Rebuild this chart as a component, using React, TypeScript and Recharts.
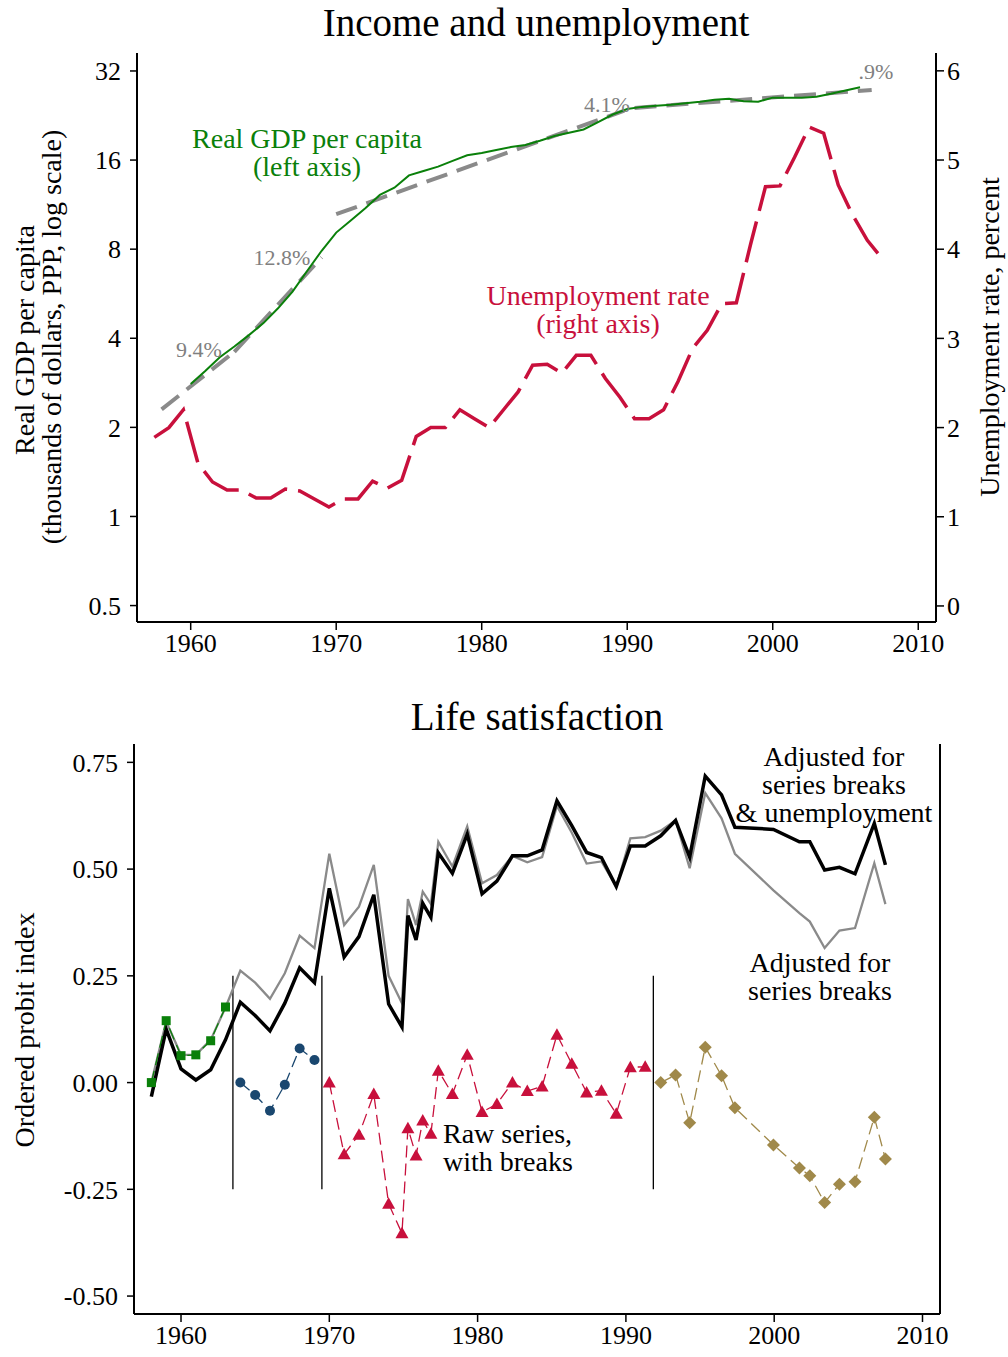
import React from 'react';
import { LineChart, Line, XAxis, YAxis, ReferenceLine } from 'recharts';

const FONT = '"Liberation Serif", "Times New Roman", Times, serif';

// ---------- Top chart data ----------
const xTickYears = [1960, 1970, 1980, 1990, 2000, 2010];
const gdpTicks = [0.5, 1, 2, 4, 8, 16, 32];
const unempTicks = [0, 1, 2, 3, 4, 5, 6];

const gdpYears = [
  1960, 1961, 1962, 1963, 1964, 1965, 1966, 1967, 1968, 1969,
  1970, 1971, 1972, 1973, 1974, 1975, 1976, 1977, 1978, 1979,
  1980, 1981, 1982, 1983, 1984, 1985, 1986, 1987, 1988, 1989,
  1990, 1991, 1992, 1993, 1994, 1995, 1996, 1997, 1998, 1999,
  2000, 2001, 2002, 2003, 2004, 2005, 2006,
];
const gdpValues = [
  2.8, 3.1, 3.45, 3.75, 4.1, 4.5, 5.05, 5.75, 6.75, 7.9,
  9.1, 10.0, 11.0, 12.2, 12.9, 14.2, 14.7, 15.2, 15.9, 16.6,
  16.9, 17.3, 17.7, 18.0, 18.6, 19.3, 19.8, 20.3, 21.5, 22.8,
  23.8, 24.2, 24.4, 24.6, 24.9, 25.2, 25.6, 25.8, 25.3, 25.2,
  26.0, 26.0, 26.0, 26.2, 26.8, 27.5, 28.2,
];

const unempYears = [
  1957.5, 1958.5, 1959.5, 1960.5, 1961.5, 1962.5, 1963.5, 1964.5, 1965.5, 1966.5,
  1967.5, 1968.5, 1969.5, 1970.5, 1971.5, 1972.5, 1973.5, 1974.5, 1975.5, 1976.5,
  1977.5, 1978.5, 1979.5, 1980.5, 1981.5, 1982.5, 1983.5, 1984.5, 1985.5, 1986.5,
  1987.5, 1988.5, 1989.5, 1990.5, 1991.5, 1992.5, 1993.5, 1994.5, 1995.5, 1996.5,
  1997.5, 1998.5, 1999.5, 2000.5, 2001.5, 2002.5, 2003.5, 2004.5, 2005.5, 2006.5,
  2007.5,
];
const unempValues = [
  1.89, 2.0, 2.2, 1.6, 1.39, 1.3, 1.3, 1.21, 1.21, 1.31,
  1.29, 1.2, 1.11, 1.2, 1.2, 1.4, 1.32, 1.41, 1.9, 2.0,
  2.0, 2.2, 2.1, 2.0, 2.2, 2.4, 2.7, 2.71, 2.61, 2.81,
  2.81, 2.55, 2.34, 2.1, 2.1, 2.2, 2.52, 2.89, 3.09, 3.39,
  3.4, 4.07, 4.7, 4.71, 5.03, 5.37, 5.3, 4.72, 4.38, 4.1,
  3.9,
];

// trend segments (growth-rate fits)
const trendStartYears = [1958, 1963, 1970, 1990.5];
const trendEndYears = [1963, 1969, 1989.8, 2006.8];
const trendStartValues = [2.3, 3.6, 10.5, 24.0];
const trendEndValues = [3.6, 7.5, 23.5, 27.6];
const trendLabels = ['9.4%', '12.8%', '4.1%', '.9%'];

// ---------- Bottom chart data ----------
const lsTicks = [-0.5, -0.25, 0, 0.25, 0.5, 0.75];
const waves = [
  1958, 1959, 1960, 1961, 1962, 1963, 1964, 1965, 1966, 1967,
  1968, 1969, 1970, 1971, 1972, 1973, 1974, 1974.9, 1975.3, 1975.85,
  1976.3, 1976.85, 1977.35, 1978.3, 1979.3, 1980.3, 1981.3, 1982.35, 1983.35, 1984.35,
  1985.35, 1986.35, 1987.35, 1988.35, 1989.35, 1990.3, 1991.3, 1992.35, 1993.35, 1994.3,
  1995.35, 1996.45, 1997.35, 1999.95, 2001.7, 2002.4, 2003.4, 2004.4, 2005.45, 2006.75,
  2007.5,
];
const adjBreaksUnemp = [
  -0.033, 0.125, 0.032, 0.006, 0.03, 0.1, 0.188, 0.157, 0.121, 0.186,
  0.269, 0.234, 0.455, 0.294, 0.342, 0.44, 0.184, 0.13, 0.391, 0.334,
  0.42, 0.387, 0.538, 0.49, 0.582, 0.442, 0.472, 0.531, 0.531, 0.545,
  0.66, 0.602, 0.539, 0.527, 0.459, 0.554, 0.554, 0.578, 0.614, 0.528,
  0.718, 0.674, 0.598, 0.593, 0.564, 0.564, 0.498, 0.504, 0.489, 0.607,
  0.51,
];
const adjBreaks = [
  0.0, 0.143, 0.065, 0.065, 0.1, 0.176, 0.262, 0.234, 0.196, 0.256,
  0.344, 0.315, 0.536, 0.369, 0.412, 0.51, 0.25, 0.186, 0.43, 0.369,
  0.447, 0.418, 0.564, 0.506, 0.6, 0.467, 0.486, 0.531, 0.516, 0.528,
  0.648, 0.585, 0.513, 0.518, 0.459, 0.572, 0.575, 0.59, 0.614, 0.502,
  0.678, 0.619, 0.536, 0.45, 0.397, 0.377, 0.315, 0.356, 0.362, 0.514,
  0.418,
];
const rawSeg1 = [0.0, 0.145, 0.063, 0.065, 0.098, 0.177];
const rawSeg2 = [0.0, -0.029, -0.066, -0.005, 0.08, 0.053];
const rawSeg3 = [
  0.0, -0.168, -0.122, -0.027, -0.284, -0.353, -0.107, -0.171, -0.089, -0.12,
  0.028, -0.027, 0.065, -0.069, -0.05, 0.0, -0.02, -0.009, 0.112, 0.044,
  -0.023, -0.019, -0.073, 0.036, 0.037,
];
const rawSeg4 = [
  0.0, 0.018, -0.094, 0.083, 0.016, -0.059, -0.146, -0.2, -0.218, -0.281,
  -0.238, -0.232, -0.081, -0.179,
];
const breakYears = [1963.5, 1969.5, 1991.85];

// ---------- build tables ----------
const gdpData = gdpYears.map((year, i) => ({ year, v: gdpValues[i] }));
const unempData = unempYears.map((year, i) => ({ year, v: unempValues[i] }));
const trendData = trendStartYears.map((s, i) => [
  { year: s, v: trendStartValues[i] },
  { year: trendEndYears[i], v: trendEndValues[i] },
]);
const adjData = waves.map((year, i) => ({ year, both: adjBreaksUnemp[i], brk: adjBreaks[i] }));
let off = 0;
const rawData = [rawSeg1, rawSeg2, rawSeg3, rawSeg4].map((seg) => {
  const d = seg.map((v, i) => ({ year: waves[off + i], v }));
  off += seg.length;
  return d;
});

// ---------- styles ----------
const GREEN = '#0A800A';
const RED = '#C8103C';
const GREY = '#8A8A8A';
const LABELGREY = '#808080';
const NAVY = '#1A476F';
const SAND = '#A0894A';

const tickStyle = { fontSize: 26, fill: '#000', fontFamily: FONT };
const axisLineStyle = { stroke: '#000', strokeWidth: 2 };
const tickLineStyle = { stroke: '#000', strokeWidth: 1.5 };

const Txt = ({ x, y, children, color = '#000', size = 28, rotate = false, align = 'center' }: any) => (
  <div
    style={{
      position: 'absolute',
      left: x,
      top: y,
      transform:
        (align === 'left' ? 'translate(0,-50%)' : 'translate(-50%,-50%)') + (rotate ? ' rotate(-90deg)' : ''),
      whiteSpace: 'nowrap',
      fontFamily: FONT,
      fontSize: size,
      color,
      lineHeight: 0.85,
      pointerEvents: 'none',
    }}
  >
    {children}
  </div>
);

const squareDot = (color: string) => (p: any) => (
  <rect key={'s' + p.index} x={p.cx - 4.5} y={p.cy - 4.5} width={9} height={9} fill={color} />
);
const circleDot = (color: string) => (p: any) => (
  <circle key={'c' + p.index} cx={p.cx} cy={p.cy} r={5} fill={color} />
);
const triDot = (color: string) => (p: any) => (
  <polygon
    key={'t' + p.index}
    points={`${p.cx},${p.cy - 6.5} ${p.cx - 6.5},${p.cy + 5} ${p.cx + 6.5},${p.cy + 5}`}
    fill={color}
  />
);
const diaDot = (color: string) => (p: any) => (
  <polygon
    key={'d' + p.index}
    points={`${p.cx},${p.cy - 6.5} ${p.cx + 6.5},${p.cy} ${p.cx},${p.cy + 6.5} ${p.cx - 6.5},${p.cy}`}
    fill={color}
  />
);

const rawStyles = [
  { color: GREEN, dot: squareDot(GREEN) },
  { color: NAVY, dot: circleDot(NAVY) },
  { color: RED, dot: triDot(RED) },
  { color: SAND, dot: diaDot(SAND) },
];

export default function App() {
  return (
    <div style={{ position: 'absolute', left: 0, top: 0, width: 1008, height: 1357, background: '#fff' }}>
      {/* ---------- Top chart ---------- */}
      <div style={{ position: 'absolute', left: 0, top: 0 }}>
        <LineChart width={1008} height={680} margin={{ top: 53, right: 0, bottom: 0, left: 0 }}>
          <XAxis
            xAxisId="b"
            type="number"
            dataKey="year"
            domain={[1956.31, 2011.22]}
            allowDataOverflow
            ticks={xTickYears}
            height={58}
            tickSize={8}
            tickMargin={4}
            axisLine={axisLineStyle}
            tickLine={tickLineStyle}
            tick={tickStyle}
          />
          <XAxis
            xAxisId="t"
            orientation="top"
            type="number"
            dataKey="year"
            domain={[1956.31, 2011.22]}
            allowDataOverflow
            height={0}
            tick={false}
            tickLine={false}
            axisLine={axisLineStyle}
          />
          <YAxis
            yAxisId="l"
            scale="log"
            domain={[0.44, 36.8]}
            allowDataOverflow
            ticks={gdpTicks}
            width={137}
            tickSize={7}
            tickMargin={9}
            axisLine={axisLineStyle}
            tickLine={tickLineStyle}
            tick={tickStyle}
          />
          <YAxis
            yAxisId="r"
            orientation="right"
            type="number"
            domain={[-0.18, 6.2]}
            allowDataOverflow
            ticks={unempTicks}
            width={72}
            tickSize={8}
            tickMargin={3}
            axisLine={axisLineStyle}
            tickLine={tickLineStyle}
            tick={tickStyle}
          />
          <Line
            xAxisId="b"
            yAxisId="r"
            data={unempData}
            dataKey="v"
            stroke={RED}
            strokeWidth={3.5}
            strokeDasharray="42 11"
            dot={false}
            isAnimationActive={false}
          />
          {trendData.map((d, i) => (
            <Line
              key={'tr' + i}
              xAxisId="b"
              yAxisId="l"
              data={d}
              dataKey="v"
              stroke={GREY}
              strokeWidth={4}
              strokeDasharray="22 10"
              dot={false}
              isAnimationActive={false}
            />
          ))}
          <Line
            xAxisId="b"
            yAxisId="l"
            data={gdpData}
            dataKey="v"
            stroke={GREEN}
            strokeWidth={2}
            dot={false}
            isAnimationActive={false}
          />
        </LineChart>
      </div>

      {/* ---------- Bottom chart ---------- */}
      <div style={{ position: 'absolute', left: 0, top: 690 }}>
        <LineChart width={1008} height={667} margin={{ top: 54, right: 0, bottom: 0, left: 0 }}>
          <XAxis
            xAxisId="b"
            type="number"
            dataKey="year"
            domain={[1956.83, 2011.18]}
            allowDataOverflow
            ticks={xTickYears}
            height={43}
            tickSize={8}
            tickMargin={4}
            axisLine={axisLineStyle}
            tickLine={tickLineStyle}
            tick={tickStyle}
          />
          <XAxis
            xAxisId="t"
            orientation="top"
            type="number"
            dataKey="year"
            domain={[1956.83, 2011.18]}
            allowDataOverflow
            height={0}
            tick={false}
            tickLine={false}
            axisLine={axisLineStyle}
          />
          <YAxis
            yAxisId="l"
            type="number"
            domain={[-0.542, 0.793]}
            allowDataOverflow
            ticks={lsTicks}
            tickFormatter={(v: number) => v.toFixed(2)}
            width={134}
            tickSize={7}
            tickMargin={9}
            axisLine={axisLineStyle}
            tickLine={tickLineStyle}
            tick={tickStyle}
          />
          <YAxis
            yAxisId="r"
            orientation="right"
            type="number"
            domain={[-0.542, 0.793]}
            width={68}
            tick={false}
            tickLine={false}
            axisLine={axisLineStyle}
          />
          {breakYears.map((bx, i) => (
            <ReferenceLine
              key={'br' + i}
              xAxisId="b"
              yAxisId="l"
              segment={[
                { x: bx, y: 0.25 },
                { x: bx, y: -0.25 },
              ]}
              stroke="#000"
              strokeWidth={1.3}
              ifOverflow="visible"
            />
          ))}
          <Line
            xAxisId="b"
            yAxisId="l"
            data={adjData}
            dataKey="brk"
            stroke={GREY}
            strokeWidth={2.3}
            dot={false}
            isAnimationActive={false}
          />
          <Line
            xAxisId="b"
            yAxisId="l"
            data={adjData}
            dataKey="both"
            stroke="#000"
            strokeWidth={3.5}
            dot={false}
            isAnimationActive={false}
          />
          {rawData.map((d, i) => (
            <Line
              key={'raw' + i}
              xAxisId="b"
              yAxisId="l"
              data={d}
              dataKey="v"
              stroke={rawStyles[i].color}
              strokeWidth={1.3}
              strokeDasharray="12 6"
              dot={rawStyles[i].dot}
              isAnimationActive={false}
            />
          ))}
        </LineChart>
      </div>

      {/* ---------- Texts ---------- */}
      <Txt x={536} y={23} size={39}>Income and unemployment</Txt>
      <Txt x={307} y={139} color={GREEN}>Real GDP per capita</Txt>
      <Txt x={307} y={167} color={GREEN}>(left axis)</Txt>
      <Txt x={598} y={296} color={RED}>Unemployment rate</Txt>
      <Txt x={598} y={324} color={RED}>(right axis)</Txt>
      <Txt x={199} y={350} size={22} color={LABELGREY}>{trendLabels[0]}</Txt>
      <Txt x={282} y={258} size={22} color={LABELGREY}>{trendLabels[1]}</Txt>
      <Txt x={607} y={105} size={22} color={LABELGREY}>{trendLabels[2]}</Txt>
      <Txt x={876} y={72} size={22} color={LABELGREY}>{trendLabels[3]}</Txt>
      <Txt x={25} y={340} rotate>Real GDP per capita</Txt>
      <Txt x={52} y={337} rotate>(thousands of dollars, PPP, log scale)</Txt>
      <Txt x={990} y={337} rotate>Unemployment rate, percent</Txt>

      <Txt x={537} y={717} size={39}>Life satisfaction</Txt>
      <Txt x={834} y={757}>Adjusted for</Txt>
      <Txt x={834} y={785}>series breaks</Txt>
      <Txt x={834} y={813}>&amp; unemployment</Txt>
      <Txt x={820} y={963}>Adjusted for</Txt>
      <Txt x={820} y={991}>series breaks</Txt>
      <Txt x={443} y={1134} align="left">Raw series,</Txt>
      <Txt x={443} y={1162} align="left">with breaks</Txt>
      <Txt x={25} y={1030} rotate>Ordered probit index</Txt>
    </div>
  );
}
